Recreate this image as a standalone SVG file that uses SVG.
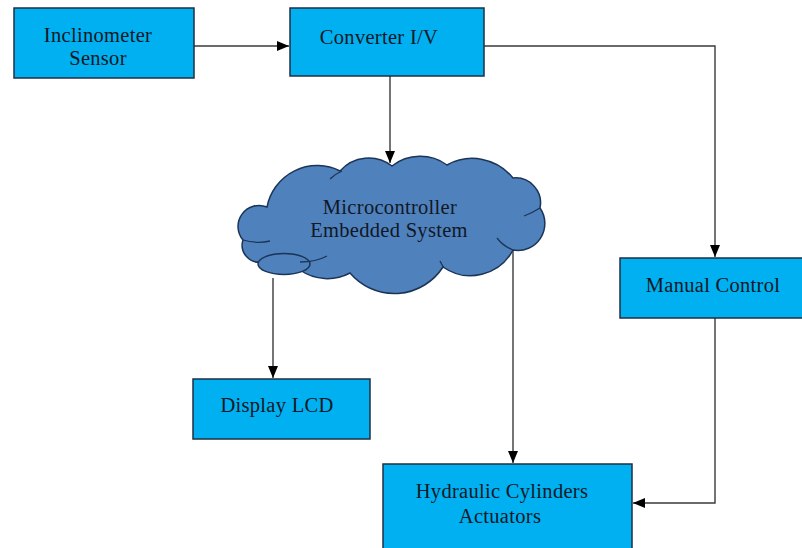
<svg xmlns="http://www.w3.org/2000/svg" width="802" height="548" viewBox="0 0 802 548">
<style>
.box{fill:#00b0f0;stroke:#1f2f44;stroke-width:1.5}
.cloud{fill:#4f81bd;stroke:#1c3557;stroke-width:1.5}
.inner{fill:none;stroke:#1c3557;stroke-width:1.3}
.lbl{font-family:"Liberation Serif","Times New Roman",serif;font-size:20.5px;letter-spacing:0.3px;fill:#0f1826;text-anchor:middle}
.wire{fill:none;stroke:#3a3a3a;stroke-width:1.4}
</style>
<defs>
<marker id="arr" viewBox="0 0 12 10" refX="12" refY="5" markerWidth="12" markerHeight="10" markerUnits="userSpaceOnUse" orient="auto">
<path d="M0,0 L12,5 L0,10 Z" fill="#000"/>
</marker>
</defs>
<rect width="802" height="548" fill="#fff"/>
<g id="connectors">
<path class="wire" d="M194,46 H289" marker-end="url(#arr)"/>
<path class="wire" d="M390,76 V163" marker-end="url(#arr)"/>
<path class="wire" d="M484,46 H715 V257" marker-end="url(#arr)"/>
<path class="wire" d="M273,278 V378" marker-end="url(#arr)"/>
<path class="wire" d="M513,250 V463" marker-end="url(#arr)"/>
<path class="wire" d="M715,318 V503 H633" marker-end="url(#arr)"/>
</g>
<g id="inclinometer">
<rect class="box" x="14" y="8" width="180" height="70"/>
<text class="lbl" x="98" y="42">Inclinometer</text>
<text class="lbl" x="98" y="65">Sensor</text>
</g>
<g id="converter">
<rect class="box" x="290" y="8" width="194" height="68"/>
<text class="lbl" x="379" y="44">Converter I/V</text>
</g>
<g id="microcontroller">
<path class="cloud" d="M243,240 A21,21 0 0 1 267,207 A51,51 0 0 1 340,171 A38,38 0 0 1 392,166 A46,46 0 0 1 447,165 A52,52 0 0 1 513,178 A25,25 0 0 1 540,208 A27,27 0 0 1 513,250 A48,48 0 0 1 443,267 A58,58 0 0 1 350,273 A48,48 0 0 1 300,270 L262,262 A17,17 0 0 1 243,240 Z"/>
<ellipse class="cloud" cx="284" cy="264" rx="26" ry="10.5"/>
<path class="inner" d="M243,240 Q257,244 270,241"/>
<path class="inner" d="M300,262 Q316,262 327,256"/>
<path class="inner" d="M330,179 Q335,174 342,171"/>
<path class="inner" d="M524,216 Q532,213 540,208"/>
<path class="inner" d="M497,238 Q503,246 513,250"/>
<path class="inner" d="M440,261 Q442,265 444,268"/>
<text class="lbl" x="390" y="214">Microcontroller</text>
<text class="lbl" x="389" y="237">Embedded System</text>
</g>
<g id="manual">
<rect class="box" x="620" y="258" width="190" height="60"/>
<text class="lbl" x="713" y="292">Manual Control</text>
</g>
<g id="display">
<rect class="box" x="193" y="379" width="177" height="60"/>
<text class="lbl" x="277" y="412">Display LCD</text>
</g>
<g id="hydraulic">
<rect class="box" x="383" y="464" width="249" height="100"/>
<text class="lbl" x="502" y="498">Hydraulic Cylinders</text>
<text class="lbl" x="500" y="523">Actuators</text>
</g>
</svg>
